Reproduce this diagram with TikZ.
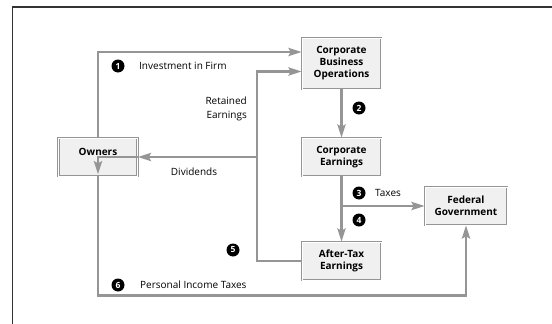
\documentclass[tikz,border=0pt]{standalone}
\usepackage{fontspec}
\setmainfont{Open Sans}
\usetikzlibrary{arrows.meta,positioning}
\definecolor{Flow}{HTML}{959595}
\definecolor{Frame}{HTML}{333333}

\begin{document}
\begin{tikzpicture}[x=1pt,y=-1pt,
  box/.style={draw=Flow,line width=0.7pt,double=white,double distance=0.8pt,fill=gray!12,
    minimum width=79pt,minimum height=38pt,align=center,inner sep=1pt,
    font=\fontsize{10}{12}\selectfont\bfseries},
  flow/.style={draw=Flow,line width=2.8pt},
  tip/.style={-{Stealth[length=13pt,width=8pt,inset=2pt]}},
  num/.style={circle,fill=black,text=white,inner sep=0pt,minimum size=13pt,
    font=\fontsize{8.5}{8.5}\selectfont\bfseries},
  lbl/.style={inner sep=0pt,font=\fontsize{10}{14}\selectfont}]
  \useasboundingbox (0,0) rectangle (552,324);
  \draw[Frame,line width=1.2pt] (12.5,324) -- (12.5,7) -- (552,7);

  % boxes
  \node[box] (owners) at (98,157) {\raisebox{10pt}{Owners}};
  \node[box,minimum height=51pt] (cbo) at (341.5,63.5) {Corporate\\Business\\Operations};
  \node[box] (cearn) at (341.5,157) {Corporate\\Earnings};
  \node[box] (atax) at (341.5,261) {After-Tax\\Earnings};
  \node[box,minimum width=82pt] (fed) at (466,206) {Federal\\Government};

  % flows
  \coordinate (retx) at (257,157);
  \coordinate (taxj) at (cearn.south |- fed.west);
  \draw[flow,tip] (owners.north) |- ([yshift=11.5pt]cbo.west);
  \draw[flow,tip] (atax.west) -| (retx) |- ([yshift=-8pt]cbo.west);
  \draw[flow,tip] (retx) -- (owners.east);
  \draw[flow,tip] (owners.east) -- (owners.center) -- ([yshift=2pt]owners.south);
  \draw[flow,tip] (owners.south) -- ++(0,119) -| (fed.south);
  \draw[flow,tip] (cbo) -- (cearn);
  \draw[flow,tip] (cearn) -- (atax);
  \draw[flow,tip] (taxj) -- (fed.west);

  % steps
  \node[num] (n1) at (118,66) {1};
  \node[num] (n2) at (359,108) {2};
  \node[num] (n3) at (359,193) {3};
  \node[num] (n4) at (359,220) {4};
  \node[num] (n5) at (233,250) {5};
  \node[num] (n6) at (118,285) {6};

  % labels
  \node[lbl,anchor=west] (linv) at (139,66) {Investment in Firm};
  \node[lbl,align=right,anchor=east] (lret) at (247,109) {Retained\\Earnings};
  \node[lbl] (ldiv) at (194,172) {Dividends};
  \node[lbl,anchor=west] (ltax) at (375,193) {Taxes};
  \node[lbl,anchor=west] (lpit) at (140,285) {Personal Income Taxes};
\end{tikzpicture}
\end{document}
